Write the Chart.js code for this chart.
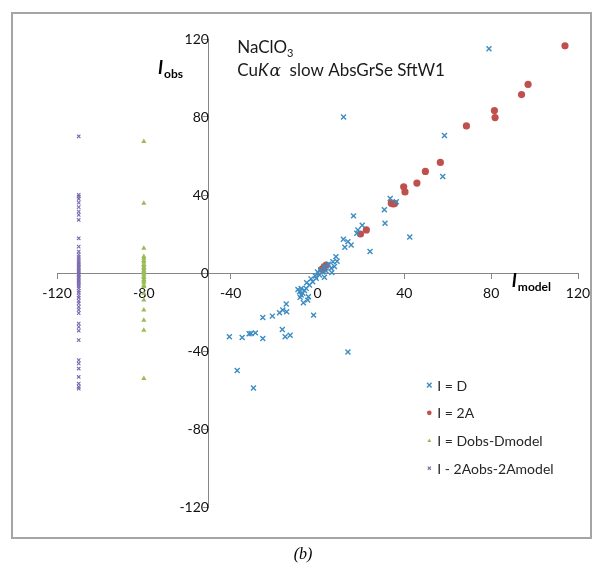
<!DOCTYPE html>
<html>
<head>
<meta charset="utf-8">
<script src="https://cdn.jsdelivr.net/npm/chart.js@4"></script>
<style>
  html, body { margin: 0; padding: 0; background: #fff; }
  #wrap { width: 605px; height: 568px; }
</style>
</head>
<body>
<div id="wrap"><canvas id="plot" width="605" height="568"></canvas></div>
<script>
// ---- data ----
// I = D  (blue crosses)
const dModelX = [79, 12, 58.5, 57.7, 36.3, 33.5, 30.8, 31.1, 42.5, 24.2,
  16.6, 20.6, 18.6, 18.1, 11.9, 14, 12.6, 15.5, 8.5, 7.1, 6.3, 7.8, 6.6, 3.2, 0.9,
  -0.6, -2.2, -3.7, -5.2, -7.5, -8.3, -6.8, -7.5, -4.2, -6.5, -4.5, -1.8, -14.4, -16,
  -14.2, -17.5, -20.8, -25.2, -16.2, -14.9, -12.6, -25.2, -28.6, -30.6, -31.5, -34.7,
  -40.6, 14, -37, -29.5, 1.5, 2.5, 4, -1, 0, 5, 3, 9, -3, -5, -9, -8, -6];
const dObsY = [115, 80, 70.5, 49.5, 36.5, 38.2, 32.4, 25.5, 18.5, 11,
  29.3, 24.5, 22.1, 20.4, 17.3, 16.1, 13.2, 14.4, 8.4, 5.8, 2.4, 3.3, 0.2, -2.2, -1,
  -2.7, -4.5, -6.2, -7.9, -7.9, -9.6, -10.4, -11.3, -12.2, -15.3, -13.9, -21.6, -15.9, -19,
  -19.9, -20.4, -22.1, -22.8, -29, -32.7, -31.9, -33.6, -30.7, -31, -31.2, -33.1,
  -32.7, -40.5, -50, -59, 1.5, 0.5, 1, -1.5, 0.5, 4.5, 3.5, 6, -3, -5, -8.5, -12.5, -9];

// I = 2A  (red dots)
const aModelX = [114, 97, 94, 81.5, 81.8, 68.6, 56.6, 49.7, 45.8, 39.7, 40.3,
  34.8, 34, 35.5, 22.5, 19.8, 4, 2, 3];
const aObsY = [116.5, 96.7, 91.5, 83.3, 79.7, 75.4, 56.7, 52.1, 46.1, 44.2, 41.6,
  35.5, 35.8, 35.6, 22.1, 20, 4.1, 1.9, 3];

// I = Dobs-Dmodel  (green triangles, plotted at x = -80)
const dDiffX = -80;
const dDiffY = [67.5, 35.8, 12.7, 8.4, 7.6, 6.4, 5.7, 4.4, 3.9, 2.8, 2.3, 1.4, 0.9,
  0.1, -0.7, -1.7, -2.3, -3.3, -4.1, -4.8, -6.1, -6.9, -10.4, -13.9, -19, -24.2, -29.3, -54.1];

// I - 2Aobs-2Amodel  (purple crosses, plotted at x = -110)
const aDiffX = -110;
const aDiffY = [70.1, 40.1, 39.2, 38, 36.1, 33.8, 31.5, 29.8, 27.2, 17.8, 13.5,
  11, 9.4, 8.2, 7.1, 6.1, 5.1, 4.2, 3.2, 2.7, 1.8, 1.2, 0.4, -0.4, -1.1, -1.9, -2.5,
  -3.4, -4.2, -4.9, -5.9, -6.6, -7.8, -9.1, -10.1, -11.6, -12.7, -14.3, -15.6, -17.4,
  -18.9, -20.6, -25.9, -27.6, -29.6, -34.4, -44.7, -46.4, -49, -53.3, -56.7, -58.4, -59.3];

const axisTicks = [-120, -80, -40, 0, 40, 80, 120];
const seriesNames = ['I = D', 'I = 2A', 'I = Dobs-Dmodel', 'I - 2Aobs-2Amodel'];

const FONT = 'Lato, "Liberation Sans", sans-serif';

// ---- build datasets ----
const datasets = [
  {
    label: seriesNames[0],
    data: dModelX.map((x, i) => ({ x: x, y: dObsY[i] })),
    pointStyle: 'crossRot', pointRadius: 3.5, borderWidth: 1.4,
    borderColor: '#3b8cc2', backgroundColor: '#3b8cc2'
  },
  {
    label: seriesNames[1],
    data: aModelX.map((x, i) => ({ x: x, y: aObsY[i] })),
    pointStyle: 'circle', pointRadius: 3.6, borderWidth: 0,
    borderColor: '#c0504d', backgroundColor: '#c0504d'
  },
  {
    label: seriesNames[2],
    data: dDiffY.map(y => ({ x: dDiffX, y: y })),
    pointStyle: 'triangle', pointRadius: 3, borderWidth: 0,
    borderColor: '#9bbb59', backgroundColor: '#9bbb59'
  },
  {
    label: seriesNames[3],
    data: aDiffY.map(y => ({ x: aDiffX, y: y })),
    pointStyle: 'crossRot', pointRadius: 2.4, borderWidth: 1.1,
    borderColor: '#7a6aae', backgroundColor: '#7a6aae'
  }
];

// ---- frame, annotations and legend ----
// legend symbols are drawn a bit smaller than the plotted ones, as in the original
function drawMarker(ctx, ds, x, y) {
  ctx.save();
  ctx.strokeStyle = ds.borderColor;
  ctx.fillStyle = ds.backgroundColor;
  ctx.lineWidth = ds.borderWidth || 1;
  const r = ds.pointRadius * 0.65;
  if (ds.pointStyle === 'crossRot') {
    ctx.beginPath();
    ctx.moveTo(x - r, y - r); ctx.lineTo(x + r, y + r);
    ctx.moveTo(x + r, y - r); ctx.lineTo(x - r, y + r);
    ctx.stroke();
  } else if (ds.pointStyle === 'circle') {
    ctx.beginPath(); ctx.arc(x, y, r, 0, Math.PI * 2); ctx.fill();
  } else {
    ctx.beginPath();
    ctx.moveTo(x, y - r); ctx.lineTo(x + r, y + r * 0.8); ctx.lineTo(x - r, y + r * 0.8);
    ctx.closePath(); ctx.fill();
  }
  ctx.restore();
}

const decor = {
  id: 'decor',
  beforeDraw(chart) {
    const ctx = chart.ctx;
    ctx.save();
    ctx.fillStyle = '#fff';
    ctx.fillRect(0, 0, chart.width, chart.height);
    ctx.strokeStyle = '#a5a5a5';
    ctx.lineWidth = 2;
    ctx.strokeRect(12, 13, 579, 525);
    ctx.restore();
  },
  afterDraw(chart) {
    const ctx = chart.ctx;
    const sx = chart.scales.x, sy = chart.scales.y;
    ctx.save();
    ctx.fillStyle = '#1a1a1a';
    ctx.textBaseline = 'alphabetic';

    // sample / conditions
    let x0 = sx.getPixelForValue(-37), y0 = sy.getPixelForValue(113);
    ctx.font = '17px ' + FONT;
    ctx.fillText('NaClO', x0, y0);
    let w = ctx.measureText('NaClO').width;
    ctx.font = '11px ' + FONT;
    ctx.fillText('3', x0 + w, y0 + 4);

    y0 = sy.getPixelForValue(100.8);
    ctx.font = '17px ' + FONT;
    ctx.fillText('Cu', x0, y0);
    w = ctx.measureText('Cu').width;
    ctx.font = 'italic 17px ' + FONT;
    ctx.fillText('K', x0 + w, y0);
    w += ctx.measureText('K').width;
    ctx.font = 'italic 17px "DejaVu Serif", serif';
    ctx.fillText('\u03b1', x0 + w + 1, y0);
    w += ctx.measureText('\u03b1').width + 1;
    ctx.font = '17px ' + FONT;
    ctx.fillText('  slow AbsGrSe SftW1', x0 + w, y0);

    // axis titles
    ctx.fillStyle = '#000';
    x0 = sx.getPixelForValue(-73.5); y0 = sy.getPixelForValue(102);
    ctx.font = 'bold italic 18px ' + FONT;
    ctx.fillText('I', x0, y0);
    w = ctx.measureText('I').width;
    ctx.font = 'bold 12px ' + FONT;
    ctx.fillText('obs', x0 + w + 1, y0 + 4);

    x0 = sx.getPixelForValue(89.5); y0 = sy.getPixelForValue(-7.2);
    ctx.font = 'bold italic 18px ' + FONT;
    ctx.fillText('I', x0, y0);
    w = ctx.measureText('I').width;
    ctx.font = 'bold 12px ' + FONT;
    ctx.fillText('model', x0 + w + 1, y0 + 4);

    // legend
    const lx = sx.getPixelForValue(51.5);
    ctx.font = '14px ' + FONT;
    ctx.fillStyle = '#262626';
    ctx.textBaseline = 'middle';
    chart.data.datasets.forEach((ds, i) => {
      const ly = sy.getPixelForValue(-57.5 - i * 14.2);
      drawMarker(ctx, ds, lx, ly);
      ctx.fillText(ds.label, lx + 8, ly + 1);
    });

    // panel label
    ctx.fillStyle = '#000';
    ctx.textAlign = 'center';
    ctx.textBaseline = 'alphabetic';
    ctx.font = 'italic 16px "Liberation Serif", "DejaVu Serif", serif';
    ctx.fillText('(b)', 303, 559);
    ctx.restore();
  }
};

const axisColor = '#868686';
const tickFont = { family: FONT, size: 14 };

new Chart(document.getElementById('plot'), {
  type: 'scatter',
  data: { datasets: datasets },
  options: {
    responsive: false,
    animation: false,
    layout: { padding: { left: 57, right: 27, top: 39, bottom: 61 } },
    plugins: { legend: { display: false }, tooltip: { enabled: false } },
    scales: {
      x: {
        type: 'linear', min: -120, max: 120,
        position: { y: 0 },
        afterBuildTicks: s => { s.ticks = axisTicks.map(v => ({ value: v })); },
        ticks: { color: '#111', font: tickFont, padding: 7 },
        grid: { drawOnChartArea: false, drawTicks: true, tickLength: 5, color: axisColor },
        border: { color: axisColor, width: 1 }
      },
      y: {
        type: 'linear', min: -120, max: 120,
        position: { x: -50 },
        afterBuildTicks: s => { s.ticks = axisTicks.map(v => ({ value: v })); },
        ticks: { color: '#111', font: tickFont, padding: 10 },
        grid: { drawOnChartArea: false, drawTicks: true, tickLength: 5, color: axisColor },
        border: { color: axisColor, width: 1 }
      }
    }
  },
  plugins: [decor]
});
</script>
</body>
</html>
